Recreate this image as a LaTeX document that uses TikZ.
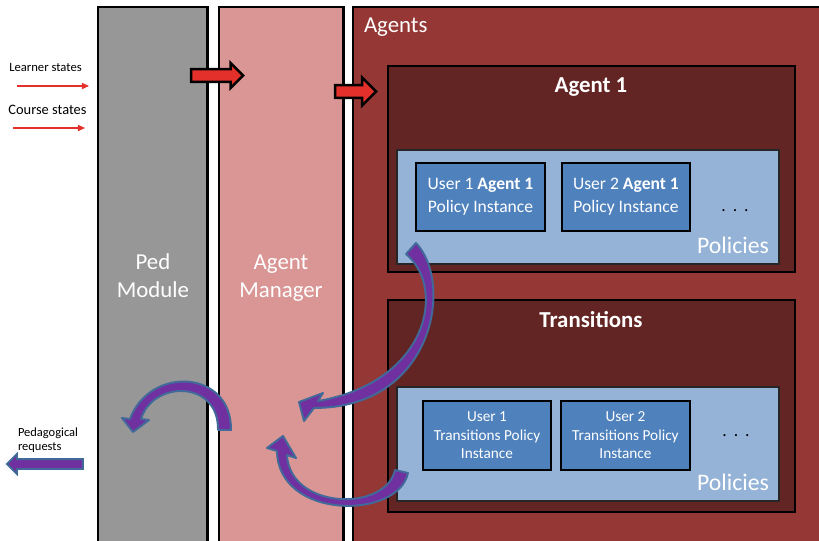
\documentclass[tikz,border=0pt]{standalone}
\usepackage{fontspec}
\setmainfont{Carlito}
\usepackage{tikz}
\usetikzlibrary{shapes,arrows,positioning,calc,arrows.meta}

\definecolor{pedgray}{HTML}{979797}
\definecolor{mgrpink}{HTML}{D99694}
\definecolor{agentred}{HTML}{953735}
\definecolor{boxdark}{HTML}{632523}
\definecolor{polblue}{HTML}{95B3D7}
\definecolor{userblue}{HTML}{4F81BD}
\definecolor{arrred}{HTML}{E3302A}
\definecolor{arrpurple}{HTML}{7030A0}
\definecolor{arrblue}{HTML}{41699A}

\begin{document}
\begin{tikzpicture}[x=0.02cm, y=-0.02cm,
    every node/.style={inner sep=0pt, outer sep=0pt},
    column/.style={draw=black, line width=1.7pt, rectangle, anchor=north west, minimum height=11.06cm},
    block/.style={draw=black, line width=1.4pt, rectangle, anchor=north west},
    policy/.style={draw=black!85, line width=1.1pt, fill=polblue, rectangle, anchor=north west, minimum width=7.64cm, minimum height=2.28cm},
    userbox/.style={block, fill=userblue, text=white, align=center},
    wtext/.style={text=white, align=center},
    redarrow/.style={single arrow, draw=black, fill=arrred, line width=1.4pt, inner xsep=0pt, inner ysep=0.105cm, anchor=tail},
    curvy/.style={fill=arrpurple, draw=arrblue, line width=1.1pt, line join=round},
    thinred/.style={draw=arrred, line width=0.6pt, -{Triangle[length=4pt,width=3.5pt]}}]

    \useasboundingbox (0,0) rectangle (819,541);
    \clip (0,0) rectangle (819,541);

    % columns
    \node[column, fill=pedgray, minimum width=2.2cm] (ped) at (98,7) {};
    \node[column, fill=mgrpink, minimum width=2.5cm] (mgr) at (219,7) {};
    \node[column, fill=agentred, minimum width=9.74cm] (agents) at (353,7) {};

    \node[wtext, font=\fontsize{13}{16}\selectfont] (pedtxt) at (153,276) {Ped\\Module};
    \node[wtext, font=\fontsize{13}{16}\selectfont] (mgrtxt) at (281,278) {Agent\\Manager};
    \node[wtext, font=\fontsize{13}{16}\selectfont, anchor=base west] (agtxt) at (364,32) {Agents};

    % agent 1
    \node[block, fill=boxdark, minimum width=8.14cm, minimum height=4.12cm] (agent1) at (388,66) {};
    \node[wtext, font=\fontsize{13}{16}\selectfont\bfseries, anchor=base] (a1txt) at (591,92) {Agent 1};
    \node[policy] (pol1) at (397,150) {};
    \node[userbox, minimum width=2.58cm, minimum height=1.36cm, font=\fontsize{10}{13}\selectfont] (u1a) at (416,163) {User 1 \textbf{Agent 1}\\Policy Instance};
    \node[userbox, minimum width=2.56cm, minimum height=1.36cm, font=\fontsize{10}{13}\selectfont, right=0.34cm of u1a.north east, anchor=north west] (u2a) {User 2 \textbf{Agent 1}\\Policy Instance};
    \node[font=\fontsize{10}{13}\selectfont, anchor=base] (dotsa) at (735,211) {.\hspace{4pt}.\hspace{4pt}.};
    \node[wtext, font=\fontsize{13.5}{16}\selectfont, above left=0.21cm and 0.2cm of pol1.south east] (polA) {Policies};

    % transitions
    \node[block, fill=boxdark, minimum width=8.14cm, minimum height=4.24cm] (trans) at (388,300) {};
    \node[wtext, font=\fontsize{13}{16}\selectfont\bfseries, anchor=base] (trtxt) at (591,327) {Transitions};
    \node[policy] (pol2) at (397,387) {};
    \node[userbox, minimum width=2.56cm, minimum height=1.38cm, font=\fontsize{8.7}{10.5}\selectfont] (u1t) at (423,401) {User 1\\Transitions Policy\\Instance};
    \node[userbox, minimum width=2.58cm, minimum height=1.38cm, font=\fontsize{8.7}{10.5}\selectfont, right=0.2cm of u1t.north east, anchor=north west] (u2t) {User 2\\Transitions Policy\\Instance};
    \node[font=\fontsize{10}{13}\selectfont, anchor=base] (dotst) at (736,436) {.\hspace{4pt}.\hspace{4pt}.};
    \node[wtext, font=\fontsize{13.5}{16}\selectfont, above left=0.21cm and 0.2cm of pol2.south east] (polB) {Policies};

    % inputs
    \node[font=\fontsize{7.2}{9}\selectfont] (lrn) at (45.5,67) {Learner states};
    \node[font=\fontsize{8.2}{10}\selectfont] (crs) at (47.5,110) {Course states};
    \coordinate (lrnA) at (17,86);
    \coordinate (lrnB) at (89,86);
    \coordinate (crsA) at (13,128);
    \coordinate (crsB) at (85,128);
    \draw[thinred] (lrnA) -- (lrnB);
    \draw[thinred] (crsA) -- (crsB);

    \node[redarrow, minimum height=1.04cm, single arrow head extend=0.12cm] (inA) at (191.2,75.5) {};
    \node[redarrow, minimum height=0.82cm, single arrow head extend=0.15cm] (inB) at (335.2,91.5) {};

    % output
    \node[font=\fontsize{7.1}{8}\selectfont, align=left, anchor=west] (req) at (18,440) {Pedagogical\\requests};
    \node[single arrow, shape border rotate=180, draw=arrblue, fill=arrpurple, line width=1.1pt, inner xsep=0pt, inner ysep=0.08cm, single arrow head extend=0.1cm, minimum height=1.52cm, anchor=tail] (out) at (83,464) {};

    % curved arrows
    \draw[curvy] (406,254) -- (416,243) .. controls (454,283) and (434,408) .. (314,408)
        -- (304,421) -- (299,402) -- (323,393) -- (318,401)
        .. controls (428,382) and (447,288) .. (406,254) -- cycle;
    \draw[curvy] (395,470) -- (408,473) .. controls (398,520) and (278,520) .. (277,451)
        -- (267,448) -- (283,436) -- (296,458) -- (287,455)
        .. controls (290,510) and (386,512) .. (395,470) -- cycle;
    \draw[curvy] (218,430) -- (231,430) .. controls (232,370) and (150,365) .. (130,419)
        -- (122,418) -- (133,432) -- (149,420) -- (141,419)
        .. controls (153,380) and (219,380) .. (218,430) -- cycle;
\end{tikzpicture}
\end{document}
